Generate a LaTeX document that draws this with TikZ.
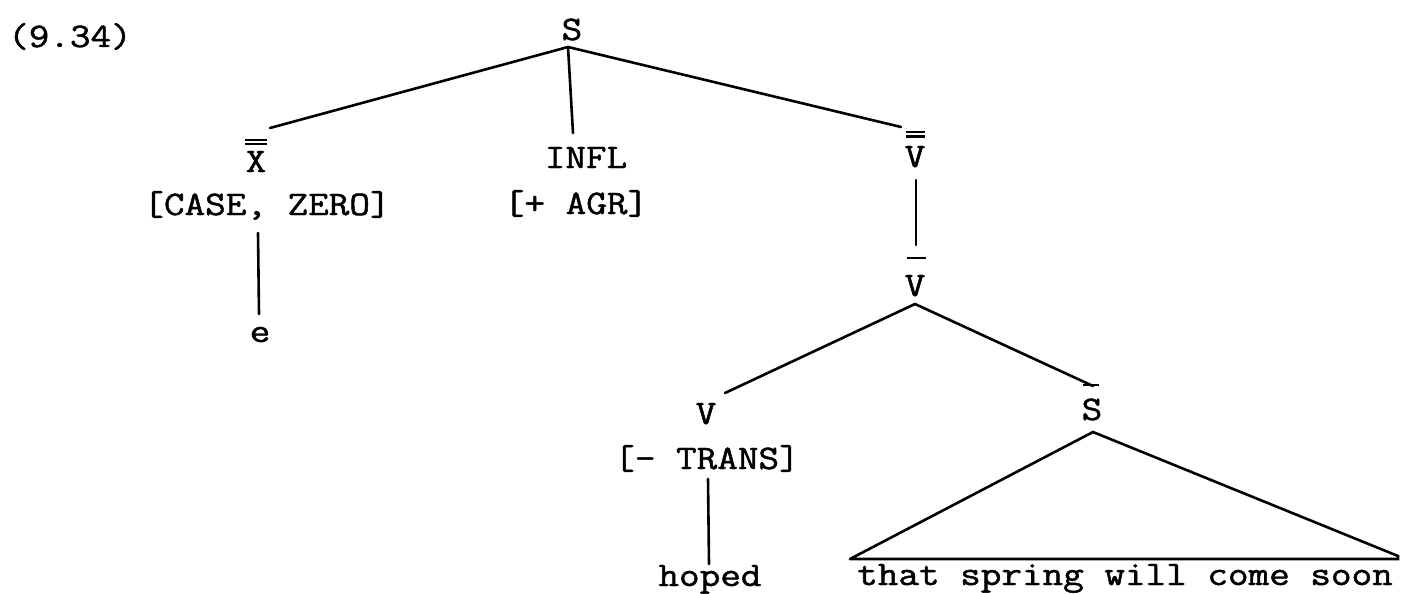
\documentclass[tikz,border=0pt]{standalone}
\usepackage{fontspec}
\usepackage{graphicx}
\newfontfamily\twfont[FakeBold=1.3]{Latin Modern Mono}
\newcommand{\tw}[1]{\scalebox{1}[0.86]{#1}}
\begin{document}
\begin{tikzpicture}[x=1pt,y=-1pt,
  lbl/.style={inner sep=0pt, anchor=base, font=\twfont\fontsize{40}{48}\selectfont},
  edge/.style={line width=2.6pt, line cap=round},
  barline/.style={line width=2.2pt}]
\useasboundingbox (0,0) rectangle (1405,594);
% labels
\node[lbl, anchor=base west] (num) at (8,47) {\tw{(9.34)}};
\node[lbl] (S) at (572,40) {\tw{S}};
\node[lbl] (X) at (256,172) {\tw{X}};
\node[lbl] (caseX) at (267,215) {\tw{[CASE, ZERO]}};
\node[lbl] (e) at (260,342) {\tw{e}};
\node[lbl] (INFL) at (586,168) {\tw{INFL}};
\node[lbl] (agr) at (576,214) {\tw{[+ AGR]}};
\node[lbl] (Vbb) at (915,167) {\tw{V}};
\node[lbl] (Vb) at (915,296) {\tw{V}};
\node[lbl] (V) at (706,424) {\tw{V}};
\node[lbl] (trans) at (707,469) {\tw{[- TRANS]}};
\node[lbl] (Sb) at (1092,420) {\tw{S}};
\node[lbl] (hoped) at (710,586) {\tw{hoped}};
\node[lbl] (clause) at (1125,585) {\tw{that spring will come soon}};
% bars
\draw[barline] ([xshift=-11pt,yshift=32pt]X.base) -- ([xshift=11pt,yshift=32pt]X.base);
\draw[barline] ([xshift=-11pt,yshift=28pt]X.base) -- ([xshift=11pt,yshift=28pt]X.base);
\draw[barline] ([xshift=-9pt,yshift=35pt]Vbb.base) -- ([xshift=10pt,yshift=35pt]Vbb.base);
\draw[barline] ([xshift=-9pt,yshift=30.5pt]Vbb.base) -- ([xshift=10pt,yshift=30.5pt]Vbb.base);
\draw[barline] ([xshift=-8pt,yshift=38pt]Vb.base) -- ([xshift=11pt,yshift=38pt]Vb.base);
\draw[barline] ([xshift=-9pt,yshift=35pt]Sb.base) -- ([xshift=7pt,yshift=35pt]Sb.base);
% connector points
\coordinate (sApex) at ([xshift=-4pt,yshift=-7pt]S.base);
\coordinate (xTop) at ([xshift=14pt,yshift=44pt]X.base);
\coordinate (inflTop) at ([xshift=-13pt,yshift=35pt]INFL.base);
\coordinate (vbbTop) at ([xshift=-14pt,yshift=40pt]Vbb.base);
\coordinate (caseBot) at ([xshift=-9pt,yshift=-18pt]caseX.base);
\coordinate (eTop) at ([xshift=-1pt,yshift=28pt]e.base);
\coordinate (vbbBot) at ([xshift=1pt,yshift=-13pt]Vbb.base);
\coordinate (vbTop) at ([xshift=1pt,yshift=51pt]Vb.base);
\coordinate (vbApex) at ([xshift=0pt,yshift=-8pt]Vb.base);
\coordinate (vTop) at ([xshift=19pt,yshift=31pt]V.base);
\coordinate (sbTop) at ([xshift=1pt,yshift=34pt]Sb.base);
\coordinate (transBot) at ([xshift=1pt,yshift=-10pt]trans.base);
\coordinate (hopedTop) at ([xshift=-1pt,yshift=22pt]hoped.base);
\coordinate (sbApex) at ([xshift=1pt,yshift=-12pt]Sb.base);
\coordinate (triL) at ([xshift=-275pt,yshift=26pt]clause.base);
\coordinate (triR) at ([xshift=273pt,yshift=26pt]clause.base);
\coordinate (triRc) at ([xshift=273pt,yshift=29pt]clause.base);
% connectors
\draw[edge] (sApex) -- (xTop);
\draw[edge] (sApex) -- (inflTop);
\draw[edge] (sApex) -- (vbbTop);
\draw[edge] (caseBot) -- (eTop);
\draw[edge] (vbbBot) -- (vbTop);
\draw[edge] (vbApex) -- (vTop);
\draw[edge] (vbApex) -- (sbTop);
\draw[edge] (transBot) -- (hopedTop);
\draw[edge, line join=miter] (triL) -- (sbApex) -- (triRc) -- (triR) -- (triL);
\end{tikzpicture}
\end{document}
